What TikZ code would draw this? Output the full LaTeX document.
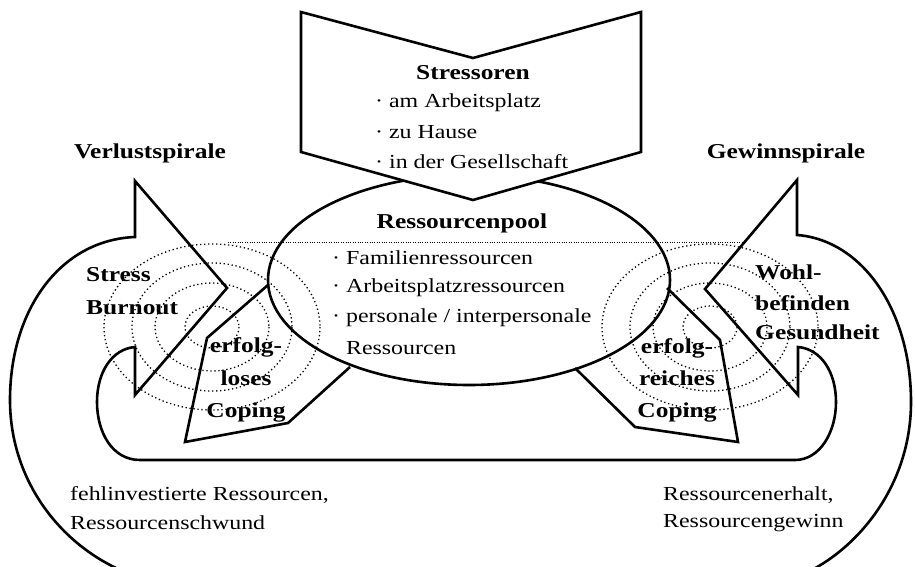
\documentclass[tikz,border=0pt]{standalone}
\usepackage{fontspec}
\setmainfont[FakeStretch=1.2]{Liberation Serif}

\begin{document}
\begin{tikzpicture} [
            x=1pt, y=-1pt,
            every node/.style={font=\fontsize{19.9}{30}\selectfont, inner sep=0pt},
            heading/.style={font=\fontsize{21.2}{30}\selectfont\bfseries},
            item/.style={anchor=west},
            outline/.style={draw, line width=2.6pt, line join=miter},
            pointer/.style={outline, fill=white},
            ring/.style={draw, line width=1.3pt, dash pattern=on 1.3pt off 2.7pt},
            rule/.style={draw, line width=0.8pt, dash pattern=on 0.8pt off 1.6pt}
        ]
        \useasboundingbox (0,0) rectangle (915,567);
        \clip (0,0) rectangle (915,567);
        % First we draw the dotted rings of both spirals
        \foreach \cx in {212, 710}
            \foreach \rx/\ry in {27/21, 57/44, 80/64, 108/83}
                \draw[ring] (\cx,327) ellipse [x radius=\rx, y radius=\ry];
        \draw[rule] (228,242) -- (742,242);
        % the pool and its two coping arrows
        \draw[outline] (469,280) ellipse [x radius=201, y radius=105];
        \draw[outline] (268,285) -- (207,338) -- (185,442) -- (288,423) -- (350,367);
        \draw[outline] (667,288) -- (720,340) -- (738,442) -- (635,427) -- (575,368);
        % one path for loss and gain spiral
        \draw[outline] (125,572) .. controls (60,545) and (10,480) .. (10,400)
            .. controls (10,310) and (60,240) .. (135,237)
            -- (135,181) -- (227,288) -- (135,395) -- (135,347)
            .. controls (112,349) and (97,372) .. (97,402)
            .. controls (97,432) and (112,460) .. (140,460)
            -- (795,460)
            .. controls (820,460) and (836,432) .. (836,402)
            .. controls (836,372) and (821,349) .. (798,347)
            -- (798,395) -- (705,289) -- (797,180) -- (797,235)
            .. controls (862,240) and (911,310) .. (911,402)
            .. controls (911,482) and (862,545) .. (808,572);
        % stressor arrow on top of the pool
        \draw[pointer] (301,12) -- (473,58) -- (641,12) -- (641,152)
            -- (473,200) -- (301,152) -- cycle;
        % labels
        \node[heading] (stressoren) at (473,73) {Stressoren};
        \foreach \y/\name/\txt in {103/arbeit/am Arbeitsplatz, 132/hause/zu Hause,
                162/gesell/in der Gesellschaft}
            \node[item] (\name) at (375,\y) {\textperiodcentered\ \txt};
        \node[heading] (pool) at (462,223) {Ressourcenpool};
        \foreach \y/\name/\txt in {258/fam/Familienressourcen, 288/platz/Arbeitsplatzressourcen,
                318/pers/{personale / interpersonale}}
            \node[item] (\name) at (332,\y) {\textperiodcentered\ \txt};
        \node[item] (ress) at (332,348) {\phantom{\textperiodcentered}\ Ressourcen};
        \node[heading] (verlust) at (150,153) {Verlustspirale};
        \node[heading] (gewinn) at (786,153) {Gewinnspirale};
        \foreach \y/\name/\txt in {275/stress/Stress, 308/burnout/Burnout}
            \node[heading, item] (\name) at (86,\y) {\txt};
        \foreach \y/\name/\txt in {272/wohl/Wohl-, 303/befinden/befinden, 332/gesund/Gesundheit}
            \node[heading, item] (\name) at (755,\y) {\txt};
        \foreach \y/\name/\txt in {347/erfolgL/erfolg-, 378/loses/loses, 412/copingL/Coping}
            \node[heading] (\name) at (246,\y) {\txt};
        \foreach \y/\name/\txt in {348/erfolgR/erfolg-, 378/reiches/reiches, 412/copingR/Coping}
            \node[heading] (\name) at (677,\y) {\txt};
        \node[item] (fehl) at (70,495) {fehlinvestierte Ressourcen,};
        \node[item] (schwund) at (70,523) {Ressourcenschwund};
        \node[item] (erhalt) at (663,495) {Ressourcenerhalt,};
        \node[item] (gewinnR) at (663,523) {Ressourcengewinn};
    \end{tikzpicture}
\end{document}
